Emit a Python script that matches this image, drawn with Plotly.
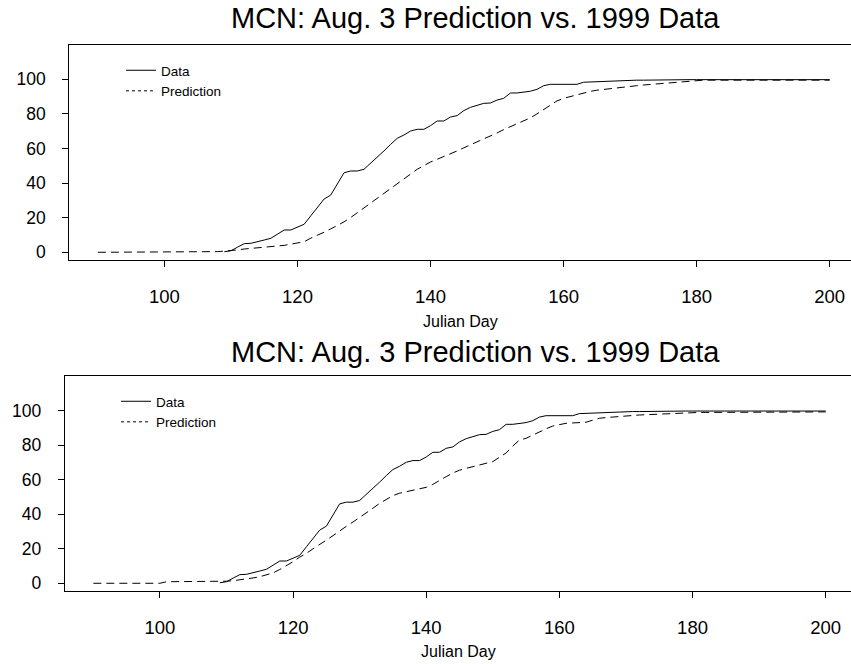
import plotly.graph_objects as go

# ---------------- data ----------------
title_text = "MCN: Aug. 3 Prediction vs. 1999 Data"
x_title = "Julian Day"
y_ticks = [0, 20, 40, 60, 80, 100]
x_ticks = [100, 120, 140, 160, 180, 200]

data_days = list(range(109, 201))
data_vals = [0.3, 0.9, 3.0, 5.0, 5.2, 6.0, 7.1, 8.1, 10.5, 12.9,   # 109-118
             12.9, 14.5, 16.2, 21.1, 26.0, 30.8, 33.1, 39.5, 46.0, 47.0,  # 119-128
             47.0, 48.0, 51.4, 55.3, 58.6, 62.4, 65.9, 67.8, 70.1, 71.1,  # 129-138
             71.1, 73.2, 75.9, 75.9, 78.2, 79.0, 81.9, 83.8, 85.0, 86.1,  # 139-148
             86.3, 88.0, 89.0, 92.1, 92.1, 92.5, 93.1, 94.2, 96.3, 97.1,  # 149-158
             97.1, 97.1, 97.1, 97.1, 98.3, 98.5, 98.6, 98.8, 99.0, 99.2,  # 159-168
             99.3, 99.4, 99.5, 99.5, 99.6, 99.6, 99.7, 99.7, 99.7, 99.8,  # 169-178
             99.8, 99.8, 99.8, 99.8, 99.8, 99.8, 99.8, 99.8, 99.8, 99.8,  # 179-188
             99.8, 99.8, 99.8, 99.8, 99.8, 99.8, 99.8, 99.8, 99.8, 99.8,  # 189-198
             99.8, 99.8]                                                 # 199-200

pred_days = list(range(90, 201))
pred1_vals = [0, 0, 0, 0, 0, 0, 0, 0, 0, 0,                          # 90-99
              0, 0, 0, 0, 0, 0, 0, 0.1, 0.4, 0.7,                     # 100-109
              0.9, 1.4, 1.9, 2.2, 2.5, 2.8, 3.0, 3.3, 4.0, 4.7,       # 110-119
              5.4, 6.1, 8.2, 9.7, 11.6, 13.5, 15.4, 17.6, 20.1, 22.9,  # 120-129
              25.7, 28.3, 31.0, 33.8, 36.7, 39.4, 42.1, 45.1, 48.0, 50.1,  # 130-139
              52.2, 53.8, 55.3, 57.0, 58.6, 60.4, 62.1, 63.8, 65.3, 67.0,  # 140-149
              69.0, 70.9, 72.6, 74.2, 75.9, 77.7, 80.0, 82.4, 85.0, 87.5,  # 150-159
              89.0, 90.1, 91.1, 92.0, 93.0, 93.7, 94.2, 94.7, 95.1, 95.5,  # 160-169
              95.9, 96.3, 96.7, 97.0, 97.4, 97.7, 98.0, 98.3, 98.6, 99.0,  # 170-179
              99.4, 99.5, 99.5, 99.5, 99.5, 99.5, 99.5, 99.5, 99.5, 99.5,  # 180-189
              99.5, 99.5, 99.5, 99.5, 99.5, 99.5, 99.5, 99.5, 99.5, 99.5,  # 190-199
              99.5]                                                    # 200

pred2_vals = [0, 0, 0, 0, 0, 0, 0, 0, 0, 0,                          # 90-99
              0, 0.9, 0.9, 0.9, 0.9, 0.9, 0.9, 0.9, 0.9, 0.9,         # 100-109
              1.2, 1.5, 1.9, 2.5, 3.1, 3.8, 4.9, 6.0, 8.0, 10.2,      # 110-119
              12.5, 15.2, 17.3, 20.0, 22.3, 25.0, 27.6, 30.5, 33.0, 35.5,  # 120-129
              38.0, 40.6, 43.5, 46.3, 48.6, 50.8, 52.2, 53.1, 54.0, 54.8,  # 130-139
              55.6, 57.3, 59.7, 61.8, 63.9, 65.5, 66.6, 67.6, 68.5, 69.5,  # 140-149
              70.5, 73.0, 75.5, 79.5, 83.0, 84.0, 85.9, 87.8, 89.5, 91.1,  # 150-159
              91.9, 92.7, 92.9, 93.1, 93.3, 94.5, 95.6, 96.0, 96.4, 96.7,  # 160-169
              97.0, 97.2, 97.5, 97.7, 98.0, 98.2, 98.4, 98.5, 98.7, 98.8,  # 170-179
              98.9, 99.0, 99.0, 99.0, 99.1, 99.1, 99.1, 99.1, 99.2, 99.2,  # 180-189
              99.2, 99.2, 99.2, 99.2, 99.3, 99.3, 99.3, 99.3, 99.3, 99.3,  # 190-199
              99.3]                                                    # 200

# ---------------- figure ----------------
FONT = "Liberation Sans, Arial, sans-serif"
W, H = 851, 664

fig = go.Figure()

line_solid = dict(color="black", width=1)
line_dash = dict(color="black", width=1, dash="8px,5px")
legend_dot = dict(color="black", width=1, dash="3px,3px")

# top panel
fig.add_trace(go.Scatter(x=pred_days, y=pred1_vals, mode="lines", line=line_dash,
                         xaxis="x", yaxis="y", showlegend=False, hoverinfo="skip"))
fig.add_trace(go.Scatter(x=data_days, y=data_vals, mode="lines", line=line_solid,
                         xaxis="x", yaxis="y", showlegend=False))
fig.add_trace(go.Scatter(x=[None], y=[None], mode="lines", line=line_solid, name="Data",
                         xaxis="x", yaxis="y", legend="legend"))
fig.add_trace(go.Scatter(x=[None], y=[None], mode="lines", line=legend_dot, name="Prediction",
                         xaxis="x", yaxis="y", legend="legend"))

# bottom panel
fig.add_trace(go.Scatter(x=pred_days, y=pred2_vals, mode="lines", line=line_dash,
                         xaxis="x2", yaxis="y2", showlegend=False, hoverinfo="skip"))
fig.add_trace(go.Scatter(x=data_days, y=data_vals, mode="lines", line=line_solid,
                         xaxis="x2", yaxis="y2", showlegend=False))
fig.add_trace(go.Scatter(x=[None], y=[None], mode="lines", line=line_solid, name="Data",
                         xaxis="x2", yaxis="y2", legend="legend2"))
fig.add_trace(go.Scatter(x=[None], y=[None], mode="lines", line=legend_dot, name="Prediction",
                         xaxis="x2", yaxis="y2", legend="legend2"))


def px_x(p):
    return p / W


def px_y(p):
    return 1 - p / H


xcommon = dict(showline=True, linecolor="black", linewidth=1, mirror=True,
               ticks="outside", ticklen=6, tickwidth=1, tickcolor="black",
               tickvals=x_ticks, showgrid=False, zeroline=False,
               tickfont=dict(family=FONT, size=18.5, color="black"),
               ticklabelstandoff=14)
ycommon = dict(showline=True, linecolor="black", linewidth=1,
               ticks="outside", ticklen=6, tickwidth=1, tickcolor="black",
               tickvals=y_ticks, showgrid=False, zeroline=False,
               tickfont=dict(family=FONT, size=17.5, color="black"),
               ticklabelstandoff=13)

fig.update_layout(
    width=W, height=H,
    margin=dict(l=0, r=0, t=0, b=0, pad=0, autoexpand=False),
    plot_bgcolor="white", paper_bgcolor="white",
    font=dict(family=FONT, color="black"),
    xaxis=dict(domain=[px_x(69.3), 1], range=[85.7, 203.2], anchor="y", **xcommon),
    yaxis=dict(domain=[px_y(260), px_y(44.7)], range=[-4.45, 120], anchor="x", **ycommon),
    xaxis2=dict(domain=[px_x(64.7), 1], range=[85.7, 203.8], anchor="y2", **xcommon),
    yaxis2=dict(domain=[px_y(590.7), px_y(376)], range=[-4.3, 120.1], anchor="x2", **ycommon),
    legend=dict(x=px_x(121), y=px_y(55), xanchor="left", yanchor="top",
                bgcolor="rgba(0,0,0,0)", borderwidth=0,
                font=dict(family=FONT, size=13.5, color="black"), tracegroupgap=0),
    legend2=dict(x=px_x(116), y=px_y(386), xanchor="left", yanchor="top",
                 bgcolor="rgba(0,0,0,0)", borderwidth=0,
                 font=dict(family=FONT, size=13.5, color="black"), tracegroupgap=0),
    showlegend=True,
    annotations=[
        dict(text=title_text, x=px_x(475), y=px_y(18), xref="paper", yref="paper",
             xanchor="center", yanchor="middle", showarrow=False,
             font=dict(family=FONT, size=29, color="black")),
        dict(text=title_text, x=px_x(475), y=px_y(352), xref="paper", yref="paper",
             xanchor="center", yanchor="middle", showarrow=False,
             font=dict(family=FONT, size=29, color="black")),
        dict(text=x_title, x=px_x(460), y=px_y(321), xref="paper", yref="paper",
             xanchor="center", yanchor="middle", showarrow=False,
             font=dict(family=FONT, size=16, color="black")),
        dict(text=x_title, x=px_x(458), y=px_y(651), xref="paper", yref="paper",
             xanchor="center", yanchor="middle", showarrow=False,
             font=dict(family=FONT, size=16, color="black")),
    ],
)

fig.write_html("out.html", config={"displayModeBar": False},
               post_script="document.body.style.margin='0px';document.body.style.padding='0px';")
